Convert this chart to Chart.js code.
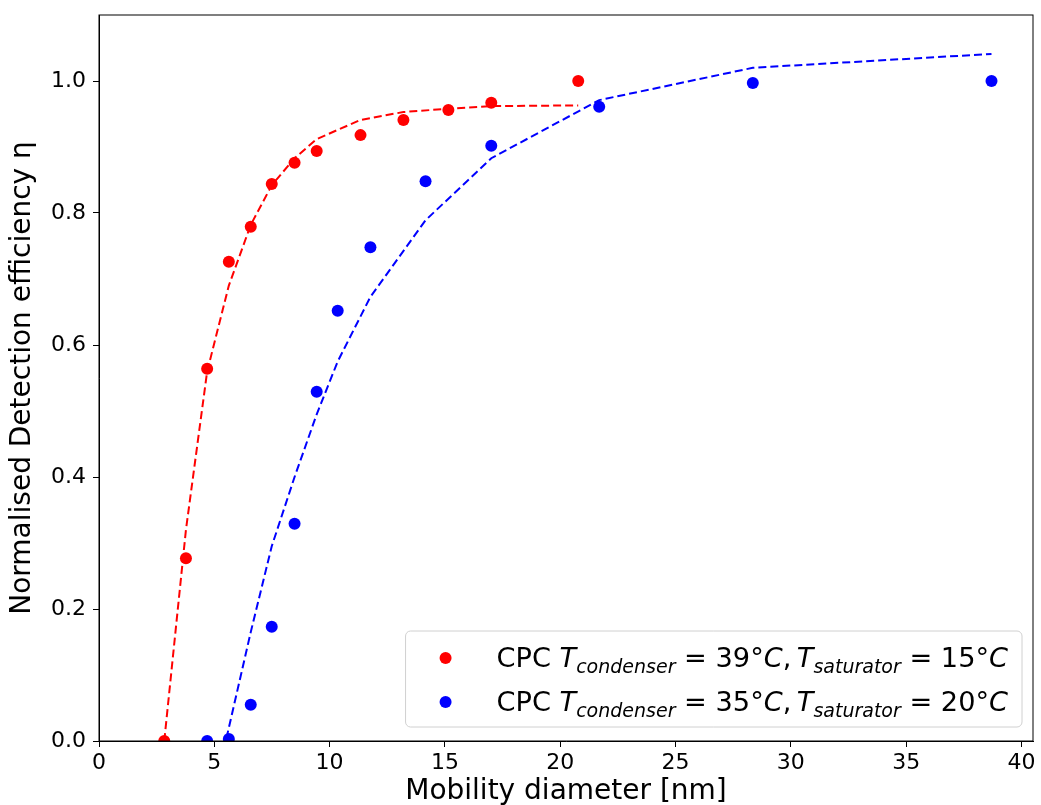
<!DOCTYPE html>
<html lang="en">
<head>
<meta charset="UTF-8" />
<title>CPC detection efficiency</title>
<script src="https://cdn.jsdelivr.net/npm/chart.js"></script>
<style>
  html, body { margin: 0; padding: 0; background: #fff; }
</style>
</head>
<body>
<canvas id="chart" width="1041" height="805"></canvas>
<script>
// CPC condenser 39 C / saturator 15 C
const redDiam = [2.83, 3.77, 4.69, 5.63, 6.58, 7.49, 8.48, 9.44, 11.34, 13.2, 15.15, 17.01, 20.78];
const redEff  = [0.0, 0.277, 0.564, 0.726, 0.779, 0.844, 0.876, 0.894, 0.918, 0.941, 0.956, 0.967, 1.0];
const redFit  = [0.0, 0.32, 0.56, 0.69, 0.782, 0.842, 0.883, 0.912, 0.941, 0.953, 0.958, 0.962, 0.963];

// CPC condenser 35 C / saturator 20 C
const blueDiam = [4.69, 5.63, 6.58, 7.49, 8.48, 9.44, 10.35, 11.77, 14.16, 17.01, 21.69, 28.35, 38.7];
const blueEff  = [0.0, 0.003, 0.055, 0.173, 0.329, 0.529, 0.652, 0.748, 0.848, 0.902, 0.961, 0.997, 1.0];
const blueFit  = [-0.12, 0.02, 0.165, 0.295, 0.40, 0.495, 0.575, 0.673, 0.789, 0.883, 0.971, 1.02, 1.041];

const xTicks = [0, 5, 10, 15, 20, 25, 30, 35, 40];
const yTicks = [0, 0.2, 0.4, 0.6, 0.8, 1.0];

// legend text pieces: [text, italic, subscript]
const redLabel = [['CPC ', 0, 0], ['T', 1, 0], ['condenser', 1, 1], [' = 39°', 0, 0], ['C', 1, 0],
                  [',\u2009', 0, 0], ['T', 1, 0], ['saturator', 1, 1], [' = 15°', 0, 0], ['C', 1, 0]];
const blueLabel = [['CPC ', 0, 0], ['T', 1, 0], ['condenser', 1, 1], [' = 35°', 0, 0], ['C', 1, 0],
                   [',\u2009', 0, 0], ['T', 1, 0], ['saturator', 1, 1], [' = 20°', 0, 0], ['C', 1, 0]];

const FONT = '"DejaVu Sans", sans-serif';
const toXY = (xs, ys) => xs.map((x, i) => ({ x: x, y: ys[i] }));
const plain = parts => parts.map(p => p[0]).join('');

function richText(ctx, parts, x, y, draw) {
  parts.forEach(p => {
    const size = p[2] ? 19 : 27.2;
    ctx.font = (p[1] ? 'italic ' : '') + size + 'px ' + FONT;
    if (draw) ctx.fillText(p[0], x, y + (p[2] ? 6 : 0));
    x += ctx.measureText(p[0]).width;
  });
  return x;
}

const frame = {
  id: 'frame',
  afterDatasetsDraw(chart) {
    const { ctx, chartArea: a } = chart;
    ctx.save();
    ctx.strokeStyle = '#000';
    ctx.lineWidth = 1;
    ctx.strokeRect(a.left, a.top, a.right - a.left, a.bottom - a.top);
    ctx.restore();
  }
};

const mplLegend = {
  id: 'mplLegend',
  afterDraw(chart) {
    const { ctx, chartArea: a } = chart;
    const rows = [[redLabel, '#ff0000'], [blueLabel, '#0000ff']];
    ctx.save();
    const textW = Math.max(...rows.map(r => richText(ctx, r[0], 0, 0, false)));
    const w = 91 + textW + 14, h = 96;
    const x0 = a.right - 11 - w, y0 = a.bottom - 14 - h;
    ctx.beginPath();
    ctx.roundRect(x0, y0, w, h, 5);
    ctx.fillStyle = 'rgba(255,255,255,0.8)';
    ctx.fill();
    ctx.strokeStyle = '#d0d0d0';
    ctx.lineWidth = 1;
    ctx.stroke();
    rows.forEach((r, i) => {
      const cy = y0 + 27 + i * 44;
      ctx.beginPath();
      ctx.arc(x0 + 40, cy, 6, 0, Math.PI * 2);
      ctx.fillStyle = r[1];
      ctx.fill();
      ctx.fillStyle = '#000';
      ctx.textBaseline = 'alphabetic';
      ctx.textAlign = 'left';
      richText(ctx, r[0], x0 + 91, cy + 9, true);
    });
    ctx.restore();
  }
};

new Chart(document.getElementById('chart'), {
  type: 'scatter',
  data: {
    datasets: [
      { label: 'fit ' + plain(redLabel), data: toXY(redDiam, redFit), showLine: true,
        borderColor: '#ff0000', borderWidth: 2, borderDash: [8, 4], pointRadius: 0, tension: 0 },
      { label: 'fit ' + plain(blueLabel), data: toXY(blueDiam, blueFit), showLine: true,
        borderColor: '#0000ff', borderWidth: 2, borderDash: [8, 4], pointRadius: 0, tension: 0 },
      { label: plain(redLabel), data: toXY(redDiam, redEff),
        backgroundColor: '#ff0000', borderWidth: 0, pointRadius: 6 },
      { label: plain(blueLabel), data: toXY(blueDiam, blueEff),
        backgroundColor: '#0000ff', borderWidth: 0, pointRadius: 6 }
    ]
  },
  options: {
    responsive: false,
    animation: false,
    layout: { padding: { top: 15, right: 8, left: 0, bottom: 0 } },
    plugins: { legend: { display: false }, tooltip: { enabled: false } },
    scales: {
      x: {
        type: 'linear', min: 0, max: 40.5,
        afterBuildTicks: s => { s.ticks = xTicks.map(v => ({ value: v })); },
        afterFit: s => { s.height = 64; },
        grid: { drawOnChartArea: false, drawTicks: true, tickLength: 6, color: '#000' },
        border: { display: true, color: '#000', width: 1 },
        ticks: { color: '#000', font: { family: FONT, size: 22 }, padding: 3, maxRotation: 0,
                 callback: v => String(v) },
        title: { display: true, text: 'Mobility diameter [nm]', color: '#000',
                 font: { family: FONT, size: 28 }, padding: { top: 0, bottom: -4 } }
      },
      y: {
        type: 'linear', min: 0, max: 1.1,
        afterBuildTicks: s => { s.ticks = yTicks.map(v => ({ value: v })); },
        afterFit: s => { s.width = 99; s.paddingTop = 0; s.paddingBottom = 0; },
        grid: { drawOnChartArea: false, drawTicks: true, tickLength: 6, color: '#000' },
        border: { display: true, color: '#000', width: 1 },
        ticks: { color: '#000', font: { family: FONT, size: 22 }, padding: 7,
                 callback: v => v.toFixed(1) },
        title: { display: true, text: 'Normalised Detection efficiency η', color: '#000',
                 font: { family: FONT, size: 28 }, padding: { top: 6, bottom: 0 } }
      }
    }
  },
  plugins: [frame, mplLegend]
});
</script>
</body>
</html>
